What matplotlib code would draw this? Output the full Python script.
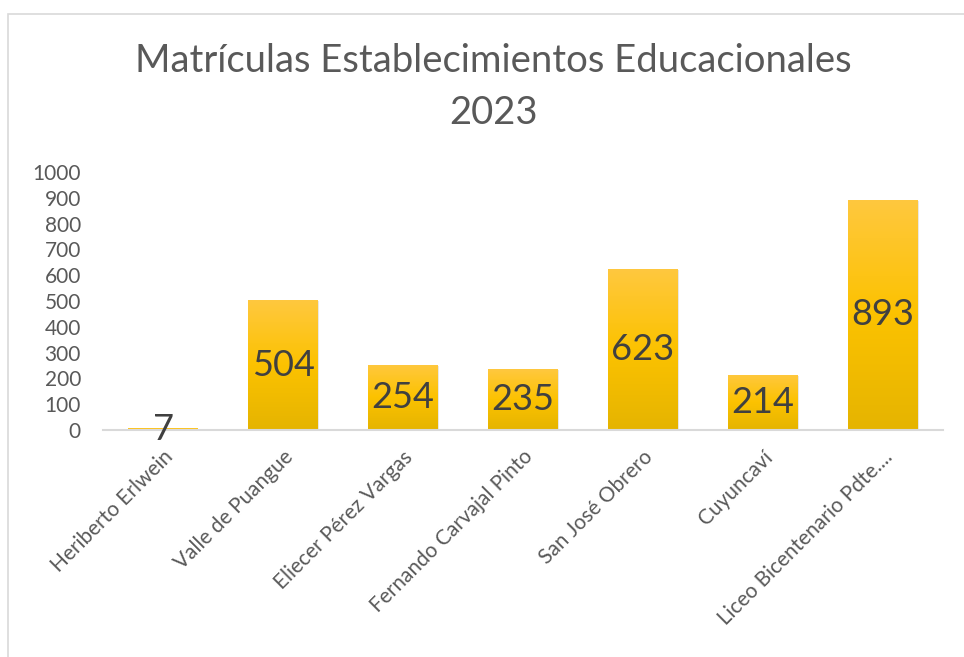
import numpy as np
import matplotlib
matplotlib.use("Agg")
import matplotlib.pyplot as plt
from matplotlib.colors import LinearSegmentedColormap
from matplotlib.patches import Rectangle

establecimientos = ["Heriberto Erlwein", "Valle de Puangue", "Eliecer Pérez Vargas",
                    "Fernando Carvajal Pinto", "San José Obrero", "Cuyuncaví",
                    "Liceo Bicentenario Pdte...."]
matriculas = [7, 504, 254, 235, 623, 214, 893]
yticks = [0, 100, 200, 300, 400, 500, 600, 700, 800, 900, 1000]

plt.rcParams['font.family'] = ['Lato', 'DejaVu Sans']

fig = plt.figure(figsize=(9.64, 6.57), dpi=100)
ax = fig.add_axes([0.107, 0.3455, 0.871, 0.3925])

# marco del gráfico
fig.patches.append(Rectangle((0.008, -0.01), 1.2, 0.988, transform=fig.transFigure,
                             fill=False, edgecolor="#D9D9D9", linewidth=1.2))

x = np.arange(len(establecimientos))
bars = ax.bar(x, matriculas, width=0.58, color="#FFC000", zorder=2)

# degradado vertical en las barras
cmap = LinearSegmentedColormap.from_list("oro", ["#E5B400", "#FCC200", "#FFC83F"])
grad = np.linspace(0, 1, 256).reshape(-1, 1)
for b in bars:
    x0, w, h = b.get_x(), b.get_width(), b.get_height()
    # sombra suave
    ax.add_patch(Rectangle((x0 + 0.012, -4), w, h, facecolor="#BBBBBB", alpha=0.35,
                           edgecolor="none", zorder=1))
    im = ax.imshow(grad, cmap=cmap, origin="lower", aspect="auto",
                   extent=[x0, x0 + w, 0, max(h, 1)], zorder=3)
    im.set_clip_path(b)

ax.bar_label(bars, labels=[str(v) for v in matriculas], label_type="center",
             fontsize=26, color="#404040", zorder=5)

ax.set_xlim(-0.5, len(establecimientos) - 0.5)
ax.set_ylim(0, 1000)
ax.set_yticks(yticks)
ax.set_yticklabels([str(t) for t in yticks], fontsize=15, color="#595959")
ax.set_xticks(x)
ax.set_xticklabels(establecimientos, rotation=45, ha="right", rotation_mode="anchor",
                   fontsize=15, color="#595959")
ax.tick_params(axis="both", length=0)
ax.tick_params(axis="y", pad=16)
ax.tick_params(axis="x", pad=12)

for s in ["top", "right", "left"]:
    ax.spines[s].set_visible(False)
ax.spines["bottom"].set_color("#D9D9D9")
ax.spines["bottom"].set_linewidth(1.5)
ax.spines["bottom"].set_zorder(4)

fig.text(0.512, 0.867, "Matrículas Establecimientos Educacionales\n2023", ha="center",
         va="center", fontsize=27.5, color="#595959", linespacing=1.55)

fig.savefig("out.png", dpi=100)
